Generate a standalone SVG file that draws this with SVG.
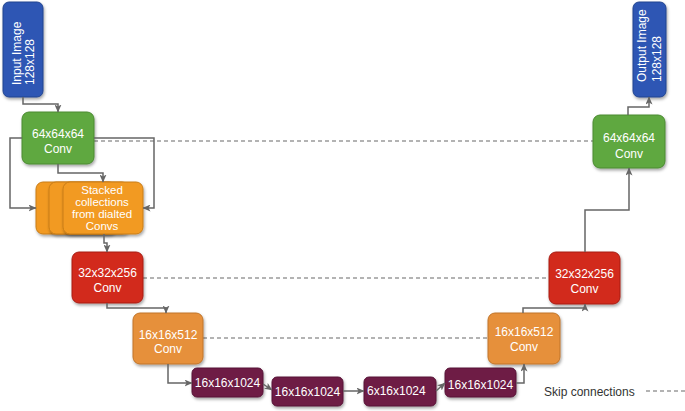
<svg xmlns="http://www.w3.org/2000/svg" width="685" height="411" viewBox="0 0 685 411">
<defs>
<filter id="sh" x="-20%" y="-20%" width="140%" height="150%">
<feDropShadow dx="1" dy="2" stdDeviation="1.5" flood-color="#000" flood-opacity="0.35"/>
</filter>
<marker id="ar" viewBox="0 0 8 7" refX="7.5" refY="3.5" markerWidth="8" markerHeight="7" markerUnits="userSpaceOnUse" orient="auto">
<path d="M0,0 L8,3.5 L0,7 L2,3.5 z" fill="#666"/>
</marker>
<style>
.box{filter:url(#sh);stroke-width:1}
.blue{fill:#2D57B4;stroke:#22448f}
.green{fill:#5FA83F;stroke:#4a8a30}
.red{fill:#D2291D;stroke:#a81f16}
.orange{fill:#E6903A;stroke:#c0742a}
.stack{fill:#F29A22;stroke:#c97d17}
.purple{fill:#6E1B45;stroke:#561436}
.t{font-family:"Liberation Sans",Arial,sans-serif;font-size:12px;fill:#fff;text-anchor:middle}
.ts{font-family:"Liberation Sans",Arial,sans-serif;font-size:11.5px;fill:#fff;text-anchor:middle}
.tr{font-family:"Liberation Sans",Arial,sans-serif;font-size:12px;fill:#fff;text-anchor:start}
.conn{fill:none;stroke:#666;stroke-width:1.5;marker-end:url(#ar)}
.skip{fill:none;stroke:#9a9a9a;stroke-width:1.5;stroke-dasharray:4 3}
</style>
</defs>

<g id="skips">
<path class="skip" d="M94,141 H593"/>
<path class="skip" d="M143,278 H549"/>
<path class="skip" d="M203,338 H488"/>
</g>

<g id="input">
<rect class="box blue" x="3" y="2" width="40" height="95" rx="6"/>
<text class="tr" transform="translate(21,85) rotate(-90)">Input Image</text>
<text class="tr" transform="translate(34,85) rotate(-90)">128x128</text>
</g>

<g id="enc1">
<rect class="box green" x="22" y="112" width="72" height="52" rx="7"/>
<text class="t" x="58" y="138">64x64x64</text>
<text class="t" x="58" y="153">Conv</text>
</g>

<g id="stacked">
<rect class="box stack" x="36" y="182" width="80" height="52" rx="7"/>
<rect class="box stack" x="49" y="182" width="80" height="52" rx="7"/>
<rect class="box stack" x="63" y="182" width="80" height="52" rx="7"/>
<text class="ts" x="102" y="194">Stacked</text>
<text class="ts" x="102" y="206">collections</text>
<text class="ts" x="102" y="218">from dialted</text>
<text class="ts" x="102" y="230">Convs</text>
</g>

<g id="enc2">
<rect class="box red" x="72" y="252" width="71" height="51" rx="7"/>
<text class="t" x="107.5" y="277">32x32x256</text>
<text class="t" x="107.5" y="292">Conv</text>
</g>

<g id="enc3">
<rect class="box orange" x="133" y="313" width="70" height="51" rx="7"/>
<text class="t" x="168" y="339">16x16x512</text>
<text class="t" x="168" y="353">Conv</text>
</g>

<g id="b1">
<rect class="box purple" x="192" y="368" width="71" height="29" rx="5"/>
<text class="t" x="227.5" y="387">16x16x1024</text>
</g>

<g id="b2">
<rect class="box purple" x="272" y="377" width="71" height="29" rx="5"/>
<text class="t" x="307.5" y="396">16x16x1024</text>
</g>

<g id="b3">
<rect class="box purple" x="364" y="377" width="72" height="29" rx="5"/>
<text class="tr" x="367" y="395">6x16x1024</text>
</g>

<g id="b4">
<rect class="box purple" x="445" y="368" width="71" height="29" rx="5"/>
<text class="t" x="480.5" y="389">16x16x1024</text>
</g>

<g id="dec3">
<rect class="box orange" x="488" y="313" width="72" height="51" rx="7"/>
<text class="t" x="524" y="336">16x16x512</text>
<text class="t" x="524" y="351">Conv</text>
</g>

<g id="dec2">
<rect class="box red" x="549" y="252" width="71" height="52" rx="7"/>
<text class="t" x="584.5" y="278">32x32x256</text>
<text class="t" x="584.5" y="293">Conv</text>
</g>

<g id="dec1">
<rect class="box green" x="593" y="115" width="72" height="53" rx="7"/>
<text class="t" x="629" y="142">64x64x64</text>
<text class="t" x="629" y="158">Conv</text>
</g>

<g id="output">
<rect class="box blue" x="633" y="2" width="33" height="95" rx="6"/>
<text class="tr" transform="translate(646,82) rotate(-90)">Output Image</text>
<text class="tr" transform="translate(661,82) rotate(-90)">128x128</text>
</g>

<g id="connectors">
<path class="conn" d="M23,97 V104 H58 V112"/>
<path class="conn" d="M22,138 H10 V208 H36"/>
<path class="conn" d="M94,138 H154 V208 H143"/>
<path class="conn" d="M58,164 V173 H103 V182"/>
<path class="conn" d="M104,234 V243 H107 V252"/>
<path class="conn" d="M107,303 V308 H166 V313"/>
<path class="conn" d="M168,364 V383 H192"/>
<path class="conn" d="M263,384 L272,390"/>
<path class="conn" d="M343,391 H364"/>
<path class="conn" d="M436,391 L445,383"/>
<path class="conn" d="M516,383 H524 V364"/>
<path class="conn" d="M523,313 V308 H585 V304"/>
<path class="conn" d="M585,252 V210 H629 V168"/>
<path class="conn" d="M628,115 V107 H649 V97"/>
</g>

<g id="legend">
<text x="544" y="396" font-family="Liberation Sans, Arial, sans-serif" font-size="12" fill="#333">Skip connections</text>
<path class="skip" d="M646,391 H685"/>
</g>
</svg>
